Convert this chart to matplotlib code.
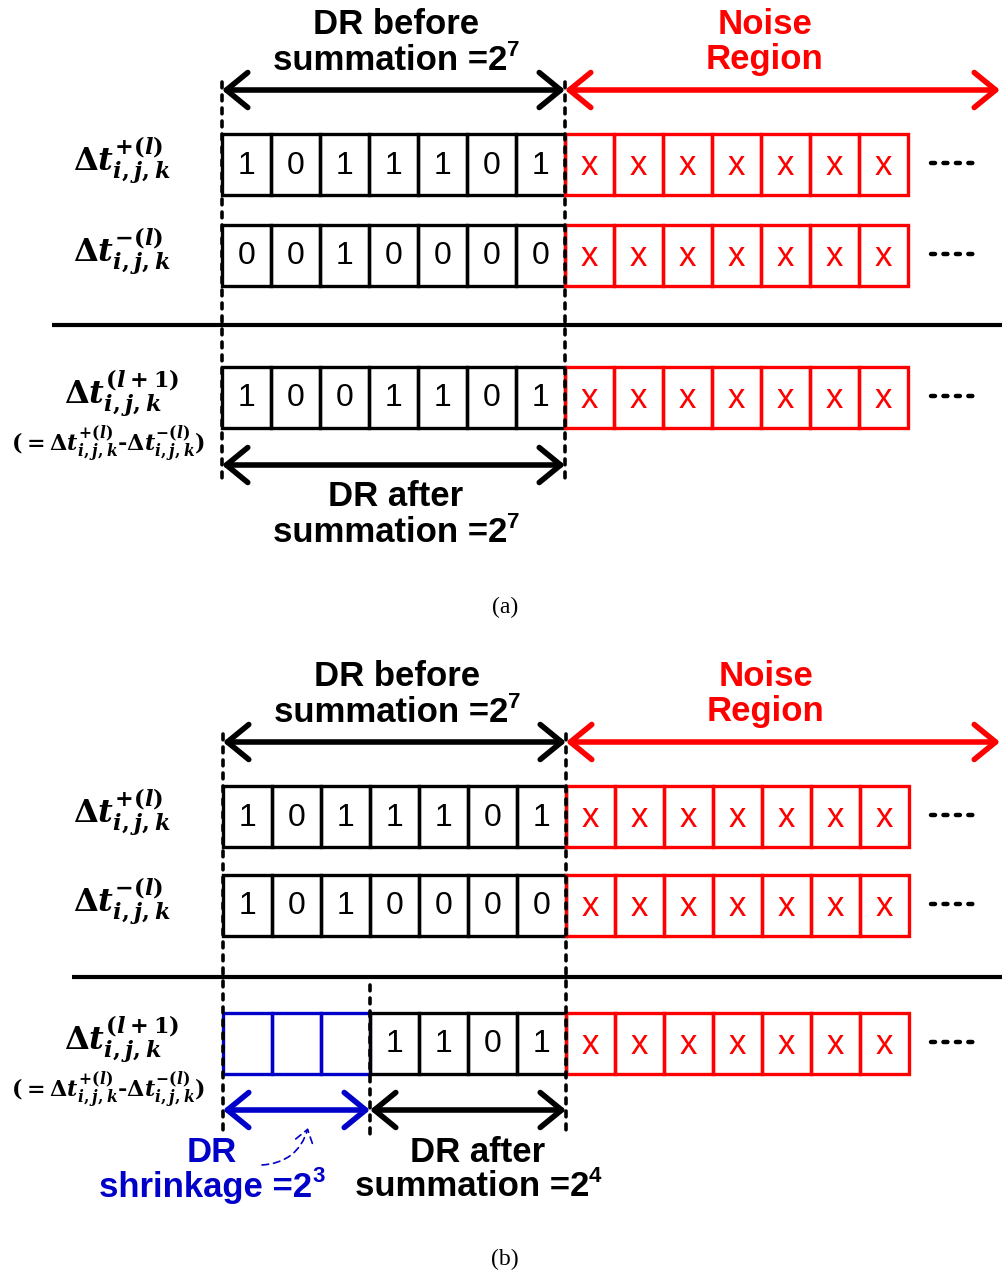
import matplotlib.pyplot as plt
from matplotlib.patches import Rectangle, FancyArrowPatch

plt.rcParams['mathtext.fontset'] = 'custom'
plt.rcParams['mathtext.rm'] = 'DejaVu Serif:bold'
plt.rcParams['mathtext.it'] = 'DejaVu Serif:italic:bold'
plt.rcParams['mathtext.bf'] = 'DejaVu Serif:bold'

# bit patterns for the two examples
a_plus = ['1', '0', '1', '1', '1', '0', '1']
a_minus = ['0', '0', '1', '0', '0', '0', '0']
a_sum = ['1', '0', '0', '1', '1', '0', '1']
b_plus = ['1', '0', '1', '1', '1', '0', '1']
b_minus = ['1', '0', '1', '0', '0', '0', '0']
b_sum = ['', '', '', '1', '1', '0', '1']
noise = ['x', 'x', 'x', 'x', 'x', 'x', 'x']
shrink_bits = 3          # leading bits lost after subtraction
dr_before = 7
dr_after_a = 7
dr_after_b = 4

lbl_plus = r'$\Delta t^{+(l)}_{i,j,k}$'
lbl_minus = r'$\Delta t^{-(l)}_{i,j,k}$'
lbl_next = r'$\Delta t^{(l+1)}_{i,j,k}$'
lbl_eq = r'$(=\Delta t^{+(l)}_{i,j,k}$' + '-' + r'$\Delta t^{-(l)}_{i,j,k})$'

RED = '#FF0000'
BLUE = '#0000C8'
SANS = 'Liberation Sans'

fig = plt.figure(figsize=(10.02, 12.76), dpi=100)
ax = fig.add_axes([0, 0, 1, 1])
ax.set_xlim(0, 1002)
ax.set_ylim(1276, 0)
ax.axis('off')
renderer = fig.canvas.get_renderer()

CW = 49.0      # cell width
CH = 61.0      # cell height


def draw_row(x0, ytop, bits, color, fs, blank_color=None):
    for i, b in enumerate(bits):
        ec = color if b != '' or blank_color is None else blank_color
        ax.add_patch(Rectangle((x0 + i * CW, ytop), CW, CH, fill=False,
                               ec=ec, lw=2.4, joinstyle='miter', zorder=2))
        if b:
            ax.text(x0 + i * CW + CW / 2, ytop + CH / 2 + 1, b, color=color,
                    fontsize=fs, family=SANS, ha='center', va='center')


def darrow(x1, x2, y, color):
    p = FancyArrowPatch((x1, y), (x2, y),
                        arrowstyle='<->,head_length=0.55,head_width=0.45',
                        mutation_scale=28, color=color, lw=4.0,
                        shrinkA=0, shrinkB=0, capstyle='round',
                        joinstyle='round', zorder=4)
    ax.add_patch(p)


def vdash(x, y1, y2):
    ax.plot([x, x], [y1, y2], color='black', lw=2.6,
            linestyle=(0, (1.6, 2.0)), dash_capstyle='round', zorder=5)


def title2(x, y, l1, l2, sup, color):
    ax.text(x, y, l1, color=color, fontsize=25, family=SANS,
            fontweight='bold', ha='center', va='center')
    t = ax.text(x, y + 35, l2, color=color, fontsize=25, family=SANS,
                fontweight='bold', ha='left', va='center')
    if sup is None:
        t.set_ha('center')
        return
    s = ax.text(x, y + 25, str(sup), color=color, fontsize=16, family=SANS,
                fontweight='bold', ha='left', va='center')
    w = t.get_window_extent(renderer).width
    ws = s.get_window_extent(renderer).width
    left = x - (w + ws) / 2
    t.set_x(left)
    s.set_x(left + w)


def dots(x, y):
    ax.plot([x, x + 46], [y, y], color='black', lw=3.2,
            linestyle=(0, (0.9, 1.9)), dash_capstyle='round')


def panel(dy, x0, x1, xsep, plus, minus, summ, cap, yrows):
    xr = x0 + 7 * CW
    # header labels and arrows
    title2((x0 + xr) / 2 + 3, 25 + dy, 'DR before', 'summation =2',
           dr_before, 'black')
    title2(x1 + 200, 25 + dy, 'Noise', 'Region', None, RED)
    darrow(x0, xr, 90 + dy, 'black')
    darrow(xr, 1000, 90 + dy, RED)

    labels = [lbl_plus, lbl_minus, lbl_next]
    for (yt, bits, lab) in zip(yrows, [plus, minus, summ], labels):
        if bits is summ and '' in bits:
            draw_row(x0, yt, bits[:shrink_bits], BLUE, 23, blank_color=BLUE)
            draw_row(x0 + shrink_bits * CW, yt, bits[shrink_bits:], 'black', 23)
        else:
            draw_row(x0, yt, bits, 'black', 23)
        draw_row(xr, yt, noise, RED, 25)
        dots(931, yt + CH / 2 - 2)
        ax.text(122, yt + CH / 2 - 4, lab, fontsize=23,
                ha='center', va='center')
    ax.text(108, yt + CH + 16, lbl_eq, fontsize=16, fontweight='bold',
            ha='center', va='center')

    ax.plot([xsep, 1002], [325 + dy, 325 + dy], color='black', lw=3.0,
            solid_capstyle='butt')
    vdash(x0, 82 + dy, 485 + dy)
    vdash(xr, 82 + dy, 485 + dy)
    ax.text(505, 607 + dy, cap, fontsize=17, family='Liberation Serif',
            ha='center', va='center')


panel(0, 222, 565, 52, a_plus, a_minus, a_sum, '(a)', [134, 225, 367])
darrow(222, 565, 465, 'black')
title2(396, 497, 'DR after', 'summation =2', dr_after_a, 'black')

dy = 652
panel(dy, 223, 566, 72, b_plus, b_minus, b_sum, '(b)', [786, 875, 1013])
xm = 223 + shrink_bits * CW
vdash(xm, 985, 1135)
darrow(223, xm, 1110, BLUE)
darrow(xm, 223 + 7 * CW, 1110, 'black')
title2(212, 1152, 'DR', 'shrinkage =2', shrink_bits, BLUE)
title2(478, 1152, 'DR after', 'summation =2', dr_after_b, 'black')
ax.add_patch(FancyArrowPatch((262, 1165), (308, 1128),
                             connectionstyle='arc3,rad=0.35',
                             arrowstyle='->,head_length=0.5,head_width=0.35',
                             mutation_scale=18, color=BLUE, lw=1.2,
                             linestyle=(0, (4, 3)), shrinkA=0, shrinkB=0))

fig.savefig('out.png', dpi=100)
